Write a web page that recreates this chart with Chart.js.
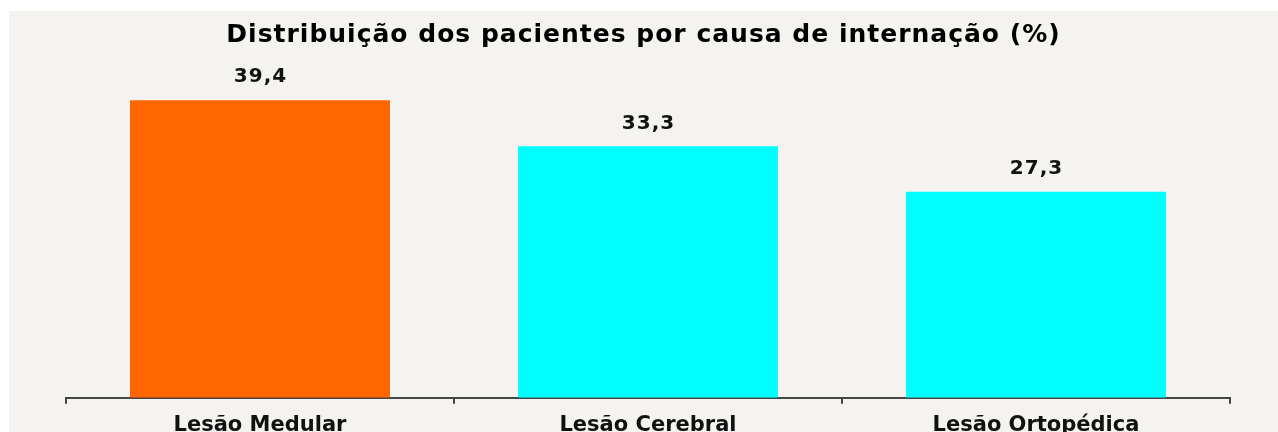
<!DOCTYPE html>
<html>
<head>
<meta charset="utf-8">
<script src="https://cdn.jsdelivr.net/npm/chart.js@4"></script>
<style>
  html, body { margin: 0; padding: 0; background: #ffffff; overflow: hidden; }
  #wrap { width: 1278px; height: 450px; }
</style>
</head>
<body>
<div id="wrap"><canvas id="c" width="1278" height="450"></canvas></div>
<script>
const titleText = "Distribuição dos pacientes por causa de internação (%)";
const categories = ["Lesão Medular", "Lesão Cerebral", "Lesão Ortopédica"];
const values = [39.4, 33.3, 27.3];
const valueLabels = ["39,4", "33,3", "27,3"];

const FONT = "'DejaVu Sans', Verdana, sans-serif";

const bgPlugin = {
  id: 'bg',
  beforeDraw(chart) {
    const ctx = chart.ctx;
    ctx.save();
    ctx.fillStyle = '#ffffff';
    ctx.fillRect(0, 0, chart.width, chart.height);
    ctx.fillStyle = '#f4f3ef';
    ctx.fillRect(9, 11, chart.width - 9, chart.height - 11);
    ctx.restore();
  }
};

const titlePlugin = {
  id: 'customTitle',
  afterDraw(chart) {
    const ctx = chart.ctx;
    ctx.save();
    ctx.font = "bold 25px " + FONT;
    try { ctx.letterSpacing = '1px'; } catch (e) {}
    ctx.fillStyle = '#000000';
    ctx.textAlign = 'center';
    ctx.textBaseline = 'middle';
    ctx.fillText(titleText, 643.5, 35);
    ctx.restore();
  }
};

const labelPlugin = {
  id: 'vlabels',
  afterDatasetsDraw(chart) {
    const ctx = chart.ctx;
    const meta = chart.getDatasetMeta(0);
    ctx.save();
    ctx.font = "bold 20px " + FONT;
    try { ctx.letterSpacing = '1px'; } catch (e) {}
    ctx.fillStyle = '#111111';
    ctx.textAlign = 'center';
    ctx.textBaseline = 'middle';
    meta.data.forEach((bar, i) => {
      ctx.fillText(valueLabels[i], bar.x + 0.5, bar.y - 23);
    });
    ctx.restore();
  }
};

new Chart(document.getElementById('c'), {
  type: 'bar',
  data: {
    labels: categories,
    datasets: [{
      data: values,
      backgroundColor: ['#ff6600', '#00ffff', '#00ffff'],
      borderWidth: 0,
      categoryPercentage: 1.0,
      barPercentage: 0.67
    }]
  },
  options: {
    responsive: false,
    animation: false,
    devicePixelRatio: 1,
    layout: { padding: { left: 66, right: 48, top: 58, bottom: 3 } },
    plugins: {
      legend: { display: false },
      tooltip: { enabled: false },
      title: { display: false }
    },
    scales: {
      y: {
        display: false,
        min: 0,
        max: 45
      },
      x: {
        offset: true,
        border: { display: true, color: '#444444', width: 2 },
        grid: { display: true, drawOnChartArea: false, tickLength: 6, color: '#444444', lineWidth: 2, offset: true },
        ticks: {
          color: '#111111',
          padding: 9,
          font: { family: FONT, size: 21, weight: 'bold' }
        }
      }
    }
  },
  plugins: [bgPlugin, labelPlugin, titlePlugin]
});
</script>
</body>
</html>
